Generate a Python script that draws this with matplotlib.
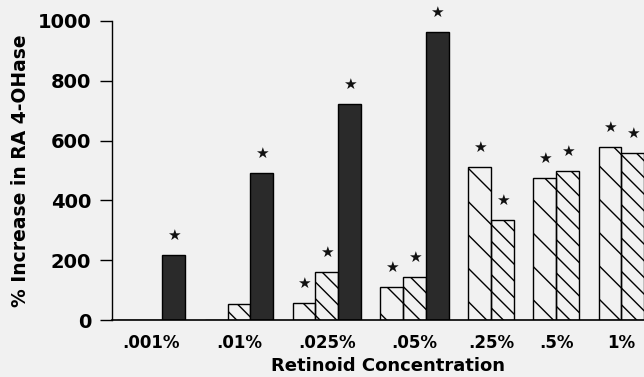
import matplotlib
matplotlib.use("Agg")
import matplotlib.pyplot as plt

plt.rcParams['font.family'] = ['DejaVu Sans']
plt.rcParams['hatch.linewidth'] = 1.0

concentrations = ['.001%', '.01%', '.025%', '.05%', '.25%', '.5%', '1%']
sparse_vals = [0, 0, 57, 110, 511, 475, 579]
dense_vals = [0, 53, 160, 143, 334, 498, 558]
dark_vals = [217, 492, 722, 963, None, None, None]
sparse_sig = [False, False, True, True, True, True, True]
dense_sig = [False, False, True, True, True, True, True]
dark_sig = [True, True, True, True, False, False, False]

series = [
    (sparse_vals, sparse_sig, dict(facecolor='none', hatch='\\', edgecolor='black')),
    (dense_vals, dense_sig, dict(facecolor='none', hatch='\\\\', edgecolor='black')),
    (dark_vals, dark_sig, dict(facecolor='#2a2a2a', edgecolor='black')),
]

bg = '#f1f1f1'
fig = plt.figure(figsize=(6.44, 3.77), dpi=100, facecolor=bg)
ax = fig.add_axes([112/644, 57/377, 532/644, 299/377], facecolor=bg)

w = 1.0
gap = 0.87
x = 0.0
centers = []
for i in range(len(concentrations)):
    start = x
    for vals, sig, style in series:
        v = vals[i]
        if v is None:
            continue
        ax.bar(x + w/2, v, width=w, linewidth=1.0, **style)
        if sig[i]:
            ax.annotate('\u2605', xy=(x + w/2, v), xytext=(0, 14), textcoords='offset points',
                        ha='center', va='center', fontsize=11, color='#111111')
        x += w
    centers.append((start + x) / 2)
    x += gap
right = x - gap

ax.set_xlim(-0.22, right)
ax.set_ylim(0, 1000)
ax.set_yticks([0, 200, 400, 600, 800, 1000])
ax.set_xticks(centers)
ax.set_xticklabels(concentrations, fontsize=12, fontweight='bold')
ax.tick_params(axis='x', length=0, pad=10)
ax.tick_params(axis='y', length=9, width=1.0, pad=6, labelsize=14)
for lab in ax.get_yticklabels():
    lab.set_fontweight('bold')
ax.spines['top'].set_visible(False)
ax.spines['right'].set_visible(False)
ax.spines['left'].set_linewidth(1.0)
ax.spines['bottom'].set_linewidth(1.2)
ax.set_ylabel('% Increase in RA 4-OHase', fontsize=13.5, fontweight='bold', labelpad=5)
ax.set_xlabel('Retinoid Concentration', fontsize=13, fontweight='bold', labelpad=4, x=0.519)

fig.savefig('out.png', dpi=100, facecolor=bg)
